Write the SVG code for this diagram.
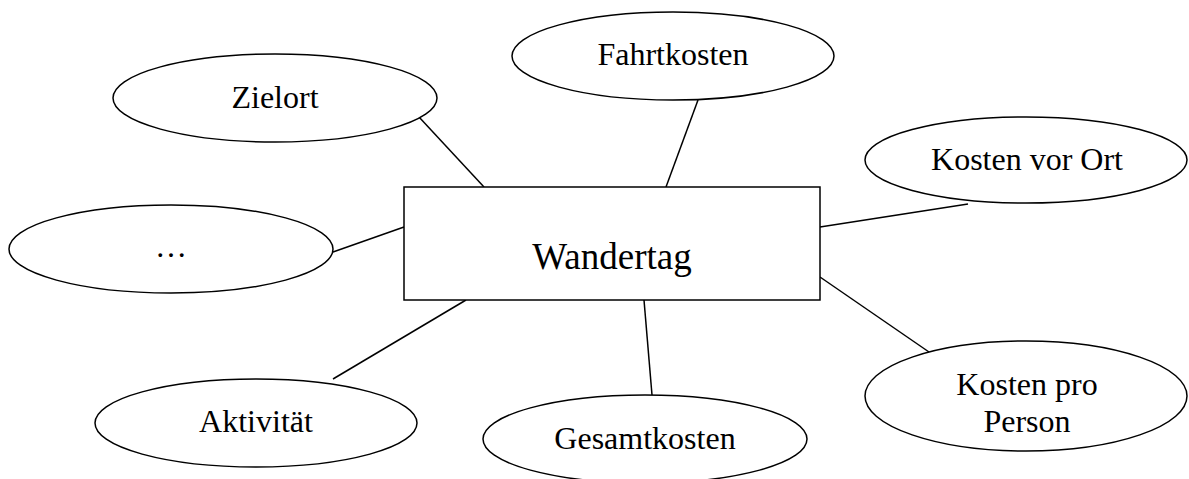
<svg xmlns="http://www.w3.org/2000/svg" width="1189" height="479" viewBox="0 0 1189 479">
<style>
.shape{fill:#fff;stroke:#000;stroke-width:1.5}
.conn{stroke:#000;stroke-width:1.5;fill:none}
.lbl{font-family:"Liberation Serif","Times New Roman",serif;font-size:32px;fill:#000;text-anchor:middle}
.main{font-size:37px}
</style>
<rect width="1189" height="479" fill="#fff"/>
<g id="connectors">
<line class="conn" x1="419" y1="117" x2="484" y2="187"/>
<line class="conn" x1="698" y1="100" x2="666" y2="187"/>
<line class="conn" x1="820" y1="227" x2="968" y2="204"/>
<line class="conn" x1="333" y1="252" x2="404" y2="227"/>
<line class="conn" x1="333" y1="379" x2="466" y2="300"/>
<line class="conn" x1="644" y1="300" x2="652" y2="395"/>
<line class="conn" x1="820" y1="277" x2="929" y2="352"/>
</g>
<g id="wandertag">
<rect class="shape" x="404" y="187" width="416" height="113"/>
<text class="lbl main" x="612" y="269">Wandertag</text>
</g>
<g id="zielort">
<ellipse class="shape" cx="275" cy="98" rx="162" ry="44"/>
<text class="lbl" x="275" y="108">Zielort</text>
</g>
<g id="fahrtkosten">
<ellipse class="shape" cx="673" cy="56" rx="161" ry="44"/>
<text class="lbl" x="673" y="65">Fahrtkosten</text>
</g>
<g id="kosten-vor-ort">
<ellipse class="shape" cx="1026" cy="160" rx="161" ry="43"/>
<text class="lbl" x="1027" y="170">Kosten vor Ort</text>
</g>
<g id="ellipsis">
<ellipse class="shape" cx="171" cy="249" rx="162" ry="44"/>
<text class="lbl" x="171" y="257">…</text>
</g>
<g id="aktivitaet">
<ellipse class="shape" cx="256" cy="423" rx="161" ry="44"/>
<text class="lbl" x="256" y="432">Aktivität</text>
</g>
<g id="gesamtkosten">
<ellipse class="shape" cx="645" cy="439" rx="162" ry="44"/>
<text class="lbl" x="645" y="449">Gesamtkosten</text>
</g>
<g id="kosten-pro-person">
<ellipse class="shape" cx="1026" cy="396" rx="161" ry="55"/>
<text class="lbl" x="1027" y="395">Kosten pro</text>
<text class="lbl" x="1027" y="432">Person</text>
</g>
</svg>
